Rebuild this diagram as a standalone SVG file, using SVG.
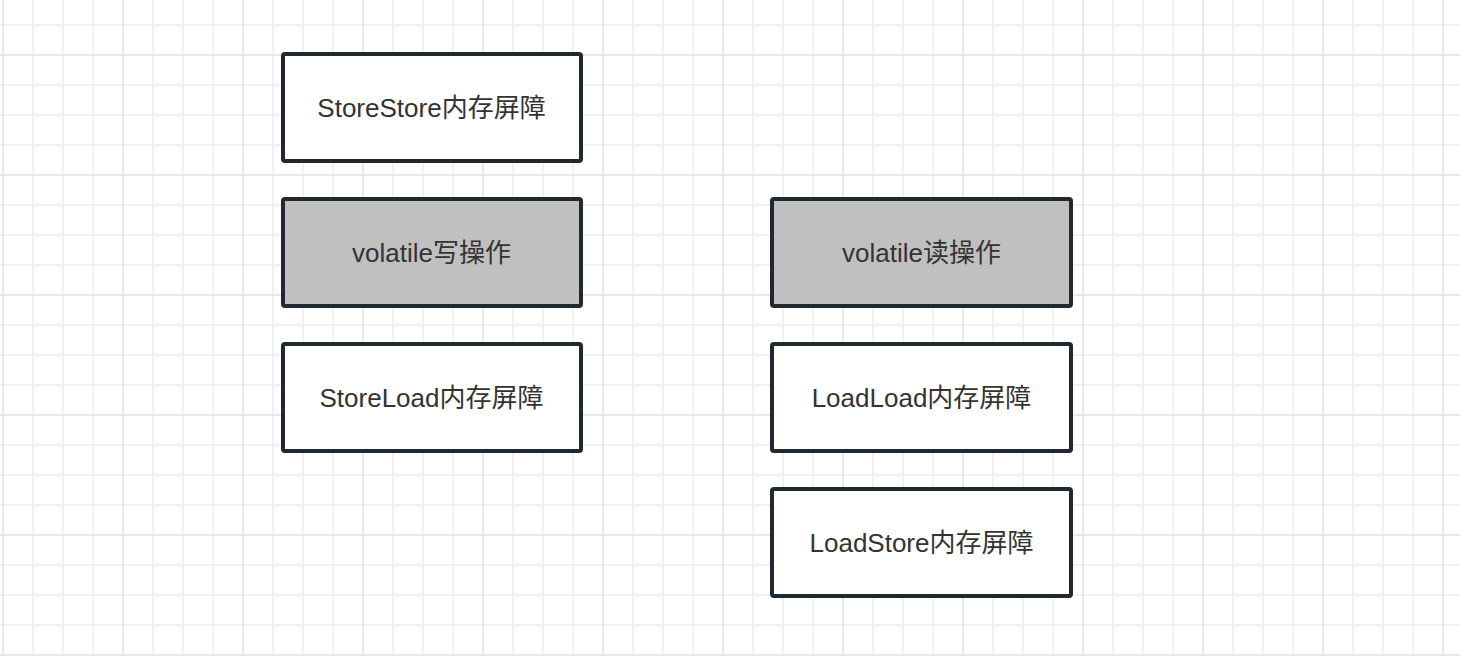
<svg xmlns="http://www.w3.org/2000/svg" width="1460" height="656" viewBox="0 0 1460 656">
<defs>
<pattern id="minor" x="2" y="24" width="30" height="30" patternUnits="userSpaceOnUse">
<path d="M1 0V30M0 1H30" fill="none" stroke="#f1f1f1" stroke-width="2"/>
</pattern>
<pattern id="major" x="2" y="54" width="120" height="120" patternUnits="userSpaceOnUse">
<path d="M1 0V120M0 1H120" fill="none" stroke="#e8e8e8" stroke-width="2"/>
</pattern>
</defs>
<style>
.box{stroke:#212930;stroke-width:4;}
.w{fill:#ffffff;}
.g{fill:#c0c0c0;}
.t{font-family:"Liberation Sans","Noto Sans CJK SC",sans-serif;font-size:26px;fill:#333333;text-anchor:middle;}
</style>
<rect width="1460" height="656" fill="#ffffff"/>
<rect width="1460" height="656" fill="url(#minor)"/>
<rect width="1460" height="656" fill="url(#major)"/>
<g id="connectors"></g>
<g id="storestore">
<rect class="box w" x="283" y="54" width="298" height="107" rx="2"/>
<text class="t" x="431.5" y="117">StoreStore内存屏障</text>
</g>
<g id="volatile-write">
<rect class="box g" x="283" y="199" width="298" height="107" rx="2"/>
<text class="t" x="431.5" y="262">volatile写操作</text>
</g>
<g id="storeload">
<rect class="box w" x="283" y="344" width="298" height="107" rx="2"/>
<text class="t" x="431.5" y="407">StoreLoad内存屏障</text>
</g>
<g id="volatile-read">
<rect class="box g" x="772" y="199" width="299" height="107" rx="2"/>
<text class="t" x="921.5" y="262">volatile读操作</text>
</g>
<g id="loadload">
<rect class="box w" x="772" y="344" width="299" height="107" rx="2"/>
<text class="t" x="921.5" y="407">LoadLoad内存屏障</text>
</g>
<g id="loadstore">
<rect class="box w" x="772" y="489" width="299" height="107" rx="2"/>
<text class="t" x="921.5" y="552">LoadStore内存屏障</text>
</g>
</svg>
